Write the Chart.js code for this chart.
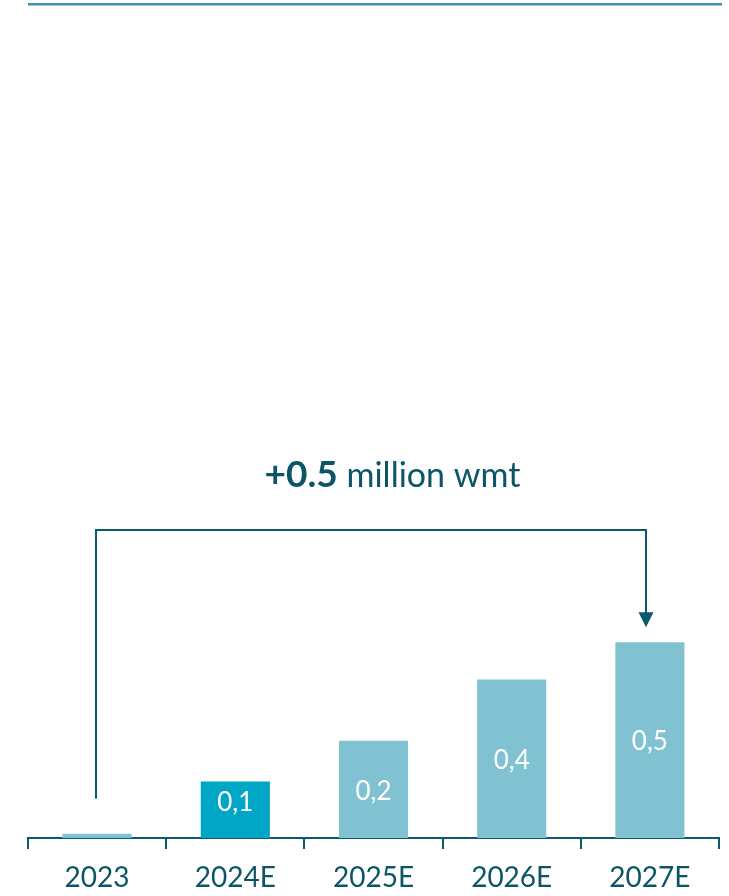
<!DOCTYPE html>
<html>
<head>
<meta charset="utf-8">
<script src="https://cdn.jsdelivr.net/npm/chart.js@4/dist/chart.umd.min.js"></script>
<style>
  html, body { margin: 0; padding: 0; background: #ffffff; }
  #wrap { width: 729px; height: 896px; position: relative; }
</style>
</head>
<body>
<div id="wrap"><canvas id="chart" width="729" height="896"></canvas></div>
<script>
// Yearly volumes, million wmt
const categories = ['2023', '2024E', '2025E', '2026E', '2027E'];
const volumes = [0.011, 0.144, 0.248, 0.404, 0.499];
const barColors = ['#80c2d2', '#00a6c6', '#80c2d2', '#80c2d2', '#80c2d2'];
const unitText = 'million wmt';

const INK = '#0b5567';
const LINE = '#0d5a6c';
const FONT = 'Lato, "Noto Sans", sans-serif';

// Thin rule across the top of the panel
const topRule = {
  id: 'topRule',
  beforeDraw(chart) {
    const ctx = chart.ctx;
    ctx.save();
    ctx.fillStyle = '#3e92a4';
    ctx.fillRect(28, 3, 694, 2.5);
    ctx.restore();
  }
};

// Value labels inside the bars (comma decimal)
const barValues = {
  id: 'barValues',
  afterDatasetsDraw(chart) {
    const ctx = chart.ctx;
    const meta = chart.getDatasetMeta(0);
    ctx.save();
    ctx.fillStyle = '#ffffff';
    ctx.font = '26px ' + FONT;
    ctx.textAlign = 'center';
    ctx.textBaseline = 'middle';
    meta.data.forEach((bar, i) => {
      const v = volumes[i];
      if (v < 0.05) return;
      const h = bar.base - bar.y;
      const y = bar.base - Math.max(h / 2 - 2, 35);
      ctx.fillText(v.toFixed(1).replace('.', ','), bar.x, y);
    });
    ctx.restore();
  }
};

// Bracket from the first to the last bar with the growth headline
const growthBracket = {
  id: 'growthBracket',
  afterDraw(chart) {
    const ctx = chart.ctx;
    const meta = chart.getDatasetMeta(0);
    const first = meta.data[0];
    const last = meta.data[meta.data.length - 1];
    const x0 = Math.round(first.x) - 1;
    const x1 = Math.round(last.x) - 4;
    const yTop = 530;
    const yStart = first.y - 35;
    const tipY = last.y - 15;

    ctx.save();
    ctx.strokeStyle = LINE;
    ctx.lineWidth = 2;
    ctx.beginPath();
    ctx.moveTo(x0, yStart);
    ctx.lineTo(x0, yTop);
    ctx.lineTo(x1, yTop);
    ctx.lineTo(x1, tipY - 14);
    ctx.stroke();

    ctx.fillStyle = LINE;
    ctx.beginPath();
    ctx.moveTo(x1 - 7.5, tipY - 15);
    ctx.lineTo(x1 + 7.5, tipY - 15);
    ctx.lineTo(x1, tipY);
    ctx.closePath();
    ctx.fill();

    // headline
    const growth = volumes[volumes.length - 1] - volumes[0];
    const boldPart = '+' + growth.toFixed(1);
    const restPart = ' ' + unitText;
    const boldFont = 'bold 37px ' + FONT;
    const normFont = '34px ' + FONT;
    ctx.font = boldFont;
    const wB = ctx.measureText(boldPart).width;
    ctx.font = normFont;
    const wR = ctx.measureText(restPart).width;
    const cx = 392.5;
    const startX = cx - (wB + wR) / 2;
    const baseY = 487;
    ctx.textBaseline = 'alphabetic';
    ctx.textAlign = 'left';
    ctx.fillStyle = INK;
    ctx.font = boldFont;
    ctx.fillText(boldPart, startX, baseY);
    ctx.font = normFont;
    ctx.fillText(restPart, startX + wB, baseY);
    ctx.restore();
  }
};

new Chart(document.getElementById('chart'), {
  type: 'bar',
  data: {
    labels: categories,
    datasets: [{
      data: volumes,
      backgroundColor: barColors,
      borderWidth: 0,
      categoryPercentage: 1,
      barPercentage: 0.5
    }]
  },
  options: {
    responsive: false,
    animation: false,
    devicePixelRatio: 1,
    layout: { padding: { top: 53, left: 28, right: 10, bottom: 0 } },
    plugins: {
      legend: { display: false },
      tooltip: { enabled: false },
      title: { display: false }
    },
    scales: {
      x: {
        offset: true,
        grid: {
          offset: true,
          drawOnChartArea: false,
          drawTicks: true,
          tickLength: 11,
          color: LINE,
          lineWidth: 2
        },
        border: { display: true, color: LINE, width: 2 },
        ticks: {
          color: INK,
          padding: 12,
          maxRotation: 0,
          font: { family: FONT, size: 28 }
        },
        afterFit(scale) { scale.height = 58; }
      },
      y: {
        display: false,
        min: 0,
        max: 2.0
      }
    }
  },
  plugins: [topRule, barValues, growthBracket]
});
</script>
</body>
</html>
